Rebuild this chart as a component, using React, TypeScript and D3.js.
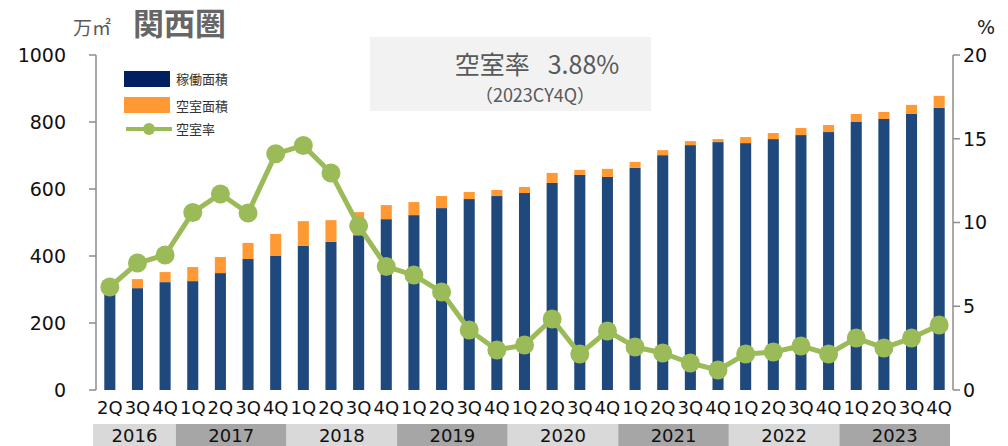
import React from 'react';
import * as d3 from 'd3';

const quarters = [
  '2Q', '3Q', '4Q',
  '1Q', '2Q', '3Q', '4Q',
  '1Q', '2Q', '3Q', '4Q',
  '1Q', '2Q', '3Q', '4Q',
  '1Q', '2Q', '3Q', '4Q',
  '1Q', '2Q', '3Q', '4Q',
  '1Q', '2Q', '3Q', '4Q',
  '1Q', '2Q', '3Q', '4Q'
];
const years = ['2016', '2017', '2018', '2019', '2020', '2021', '2022', '2023'];
const quartersPerYear = [3, 4, 4, 4, 4, 4, 4, 4];

// 稼働面積 (万㎡)
const occupied = [
  284, 304, 322, 325, 349, 391, 400, 430, 442, 462, 510,
  522, 543, 570, 579, 588, 618, 642, 636, 663, 701,
  731, 740, 737, 749, 761, 770, 800, 809, 824, 842
];
// 空室面積 (万㎡)
const vacant = [
  6, 27, 30, 42, 48, 48, 66, 74, 65, 69, 42,
  39, 36, 21, 18, 18, 30, 15, 24, 18, 15,
  12, 9, 18, 18, 21, 21, 24, 21, 27, 36
];
// 空室率 (%)
const vacancyRate = [
  6.15, 7.58, 8.06, 10.6, 11.7, 10.57, 14.1, 14.6, 12.95, 9.8, 7.37,
  6.86, 5.85, 3.58, 2.39, 2.69, 4.24, 2.15, 3.52, 2.57, 2.21,
  1.61, 1.19, 2.15, 2.27, 2.63, 2.15, 3.1, 2.51, 3.1, 3.88
];
const leftTicks = [0, 200, 400, 600, 800, 1000];
const rightTicks = [0, 5, 10, 15, 20];

const W = 1008;
const H = 446;
const left = 96;
const right = 953;
const top = 55;
const bottom = 390;

const NAVY = '#1F497D';
const ORANGE = '#FF9933';
const GREEN = '#9BBB59';
const AXIS = '#8c8c8c';
const NUM_FONT = '"DejaVu Sans", Verdana, sans-serif';
const JP_FONT = '"Noto Sans CJK JP", sans-serif';

export default function App() {
  const idx = quarters.map((_, i) => i);
  const x = d3.scaleBand<number>().domain(idx).range([left, right]).paddingInner(0.6).paddingOuter(0.3);
  const xs = d3.scaleBand<number>().domain(idx).range([left - 3, right - 3]).padding(0);
  const y = d3.scaleLinear().domain([0, 1000]).range([bottom, top]);
  const y2 = d3.scaleLinear().domain([0, 20]).range([bottom, top]);
  const cx = (i: number) => (x(i) as number) + x.bandwidth() / 2;

  const line = d3
    .line<number>()
    .x((_, i) => cx(i))
    .y(d => y2(d));

  let start = 0;
  const yearBands = years.map((yr, k) => {
    const s = start;
    const e = start + quartersPerYear[k] - 1;
    start += quartersPerYear[k];
    const x0 = xs(s) as number;
    const x1 = (xs(e) as number) + xs.bandwidth();
    return { yr, x0, x1, k };
  });

  return (
    <svg width={W} height={H} style={{ position: 'absolute', left: 0, top: 0, background: '#fff' }}>
      {/* title */}
      <text x={73} y={35} fontFamily={JP_FONT} fontSize={19} fill="#595959">万㎡</text>
      <text x={133} y={35} fontFamily={JP_FONT} fontSize={31} fontWeight="bold" fill="#666666">関西圏</text>
      <text x={986} y={34} fontFamily={NUM_FONT} fontSize={19} fill="#222" textAnchor="middle">%</text>

      {/* annotation box */}
      <rect x={370} y={37} width={281} height={74} fill="#f2f2f2" />
      <text x={537} y={74} textAnchor="middle" fontFamily={JP_FONT} fontSize={25} fill="#595959">
        <tspan>空室率</tspan>
        <tspan dx={18}>3.88%</tspan>
      </text>
      <text x={535} y={102} textAnchor="middle" fontFamily={JP_FONT} fontSize={18} fill="#595959">
        （2023CY4Q）
      </text>

      {/* left axis */}
      <line x1={left} x2={left} y1={y(1000)} y2={y(0)} stroke={AXIS} strokeWidth={1.5} />
      {leftTicks.map(t => (
        <g key={t}>
          <line x1={left - 7} x2={left} y1={y(t)} y2={y(t)} stroke={AXIS} strokeWidth={1.5} />
          <text x={66} y={y(t)} dy="0.36em" textAnchor="end" fontFamily={NUM_FONT} fontSize={19} fill="#111">
            {t}
          </text>
        </g>
      ))}

      {/* right axis */}
      <line x1={right} x2={right} y1={y2(20)} y2={y2(0)} stroke={AXIS} strokeWidth={1.5} />
      {rightTicks.map(t => (
        <g key={t}>
          <line x1={right} x2={right + 7} y1={y2(t)} y2={y2(t)} stroke={AXIS} strokeWidth={1.5} />
          <text x={963} y={y2(t)} dy="0.36em" textAnchor="start" fontFamily={NUM_FONT} fontSize={19} fill="#111">
            {t}
          </text>
        </g>
      ))}

      {/* bars */}
      {idx.map(i => (
        <g key={i}>
          <rect
            x={x(i)}
            y={y(occupied[i])}
            width={x.bandwidth()}
            height={y(0) - y(occupied[i])}
            fill={NAVY}
          />
          <rect
            x={x(i)}
            y={y(occupied[i] + vacant[i])}
            width={x.bandwidth()}
            height={y(occupied[i]) - y(occupied[i] + vacant[i])}
            fill={ORANGE}
          />
        </g>
      ))}

      {/* vacancy line */}
      <path d={line(vacancyRate) || ''} fill="none" stroke={GREEN} strokeWidth={5} strokeLinejoin="round" />
      {vacancyRate.map((v, i) => (
        <circle key={i} cx={cx(i)} cy={y2(v)} r={9.5} fill={GREEN} />
      ))}

      {/* quarter labels */}
      {quarters.map((q, i) => (
        <text
          key={i}
          x={cx(i)}
          y={408}
          dy="0.36em"
          textAnchor="middle"
          fontFamily={NUM_FONT}
          fontSize={18}
          fill="#111"
        >
          {q}
        </text>
      ))}

      {/* year bands */}
      {yearBands.map(b => (
        <g key={b.yr}>
          <rect x={b.x0} y={424} width={b.x1 - b.x0} height={22} fill={b.k % 2 === 0 ? '#d9d9d9' : '#a6a6a6'} />
          <text
            x={(b.x0 + b.x1) / 2}
            y={436}
            dy="0.36em"
            textAnchor="middle"
            fontFamily={NUM_FONT}
            fontSize={18}
            fill="#111"
          >
            {b.yr}
          </text>
        </g>
      ))}

      {/* legend */}
      <rect x={124} y={71} width={46} height={16} fill="#002060" />
      <text x={176} y={79} dy="0.36em" fontFamily={JP_FONT} fontSize={13} fill="#333">稼働面積</text>
      <rect x={124} y={97} width={46} height={16} fill={ORANGE} />
      <text x={176} y={106} dy="0.36em" fontFamily={JP_FONT} fontSize={13} fill="#333">空室面積</text>
      <line x1={126} x2={172} y1={129} y2={129} stroke={GREEN} strokeWidth={4} />
      <circle cx={149} cy={129} r={6} fill={GREEN} />
      <text x={176} y={129} dy="0.36em" fontFamily={JP_FONT} fontSize={13} fill="#333">空室率</text>
    </svg>
  );
}
